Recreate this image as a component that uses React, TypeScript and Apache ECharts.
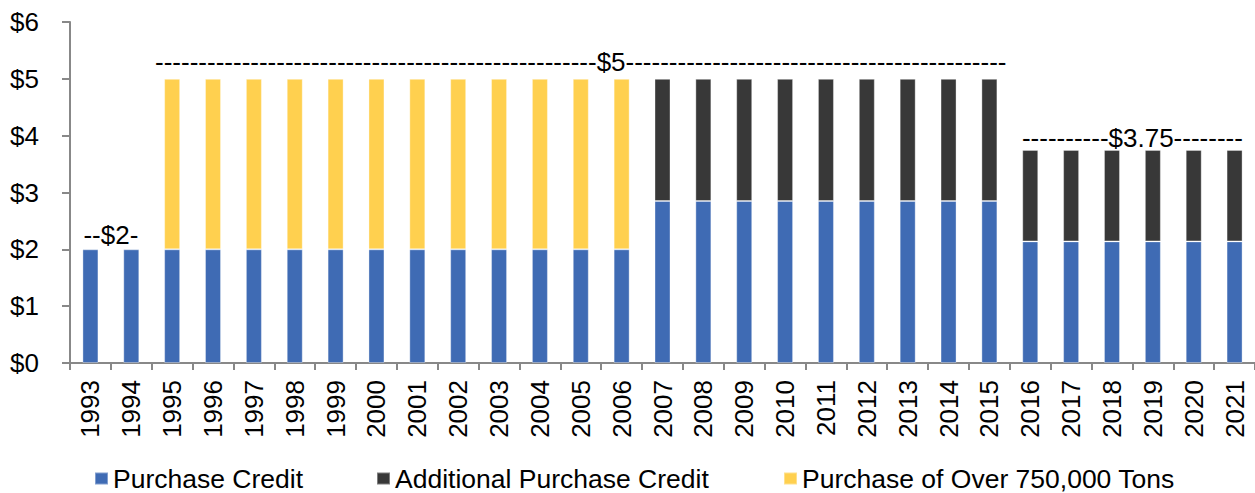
import React, { useEffect, useRef } from "react";
import * as echarts from "echarts";

const years = [
  "1993", "1994", "1995", "1996", "1997", "1998", "1999", "2000", "2001", "2002",
  "2003", "2004", "2005", "2006", "2007", "2008", "2009", "2010", "2011", "2012",
  "2013", "2014", "2015", "2016", "2017", "2018", "2019", "2020", "2021",
];

const purchaseCredit = [
  2, 2, 2, 2, 2, 2, 2, 2, 2, 2, 2, 2, 2, 2,
  2.85, 2.85, 2.85, 2.85, 2.85, 2.85, 2.85, 2.85, 2.85,
  2.14, 2.14, 2.14, 2.14, 2.14, 2.14,
];

const additionalCredit = [
  null, null, null, null, null, null, null, null, null, null, null, null, null, null,
  2.15, 2.15, 2.15, 2.15, 2.15, 2.15, 2.15, 2.15, 2.15,
  1.61, 1.61, 1.61, 1.61, 1.61, 1.61,
];

const over750k = [
  null, null, 3, 3, 3, 3, 3, 3, 3, 3, 3, 3, 3, 3,
  null, null, null, null, null, null, null, null, null,
  null, null, null, null, null, null,
];

const seriesNames = [
  "Purchase Credit",
  "Additional Purchase Credit",
  "Purchase of Over 750,000 Tons",
];

const yTicks = [0, 1, 2, 3, 4, 5, 6];

const annotationFrom = ["1993", "1995", "2016"];
const annotationTo = ["1994", "2015", "2021"];
const annotationLevel = [2, 5, 3.75];
const annotationText = [
  "--$2-",
  "---------------------------------------------------$5--------------------------------------------",
  "----------$3.75--------",
];

const FONT = "'Liberation Sans', Arial, Helvetica, sans-serif";
const COLORS = ["#3F6BB4", "#383838", "#FFD04F"];

export default function App() {
  const ref = useRef<HTMLDivElement>(null);

  useEffect(() => {
    if (!ref.current) return;
    const chart = echarts.init(ref.current, null, { renderer: "svg" });
    const dataSets = [purchaseCredit, additionalCredit, over750k];
    const legendLefts = [94, 376, 783];
    const annotationLift = [1, 4, -1];

    chart.setOption({
      animation: false,
      grid: { left: 70, top: 22, width: 1186, height: 341, containLabel: false },
      legend: seriesNames.map((name, i) => ({
        data: [name],
        left: legendLefts[i],
        top: 465,
        padding: 0,
        icon: "rect",
        itemWidth: 13,
        itemHeight: 12,
        textStyle: { fontFamily: FONT, fontSize: 26.5, color: "#000" },
        selectedMode: false,
      })),
      xAxis: {
        type: "category",
        data: years,
        boundaryGap: true,
        axisLine: { lineStyle: { color: "#888888", width: 2 } },
        axisTick: { show: true, length: 7, lineStyle: { color: "#888888", width: 2 } },
        axisLabel: {
          rotate: 90,
          interval: 0,
          margin: 17,
          fontFamily: FONT,
          fontSize: 26,
          color: "#000",
        },
      },
      yAxis: {
        type: "value",
        min: yTicks[0],
        max: yTicks[yTicks.length - 1],
        interval: 1,
        splitLine: { show: false },
        axisLine: { show: true, lineStyle: { color: "#888888", width: 2 } },
        axisTick: { show: true, length: 8, lineStyle: { color: "#888888", width: 2 } },
        axisLabel: {
          margin: 31,
          fontFamily: FONT,
          fontSize: 26,
          color: "#000",
          formatter: (v: number) => "$" + v,
        },
      },
      series: dataSets.map((d, i) => ({
        name: seriesNames[i],
        type: "bar",
        stack: "total",
        data: d,
        barWidth: 16,
        itemStyle: {
          color: COLORS[i],
          borderColor: "rgba(255,255,255,0.35)",
          borderWidth: 1,
        },
      })),
    });

    const graphics = annotationText.map((text, i) => {
      const a = chart.convertToPixel({ gridIndex: 0 }, [annotationFrom[i], annotationLevel[i]]) as number[];
      const b = chart.convertToPixel({ gridIndex: 0 }, [annotationTo[i], annotationLevel[i]]) as number[];
      return {
        type: "text",
        x: (a[0] + b[0]) / 2,
        y: a[1] - annotationLift[i],
        style: {
          text,
          fontFamily: FONT,
          fontSize: 26,
          fill: "#000",
          textAlign: "center",
          textVerticalAlign: "bottom",
        },
      };
    });
    chart.setOption({ graphic: graphics });

    return () => chart.dispose();
  }, []);

  return (
    <div
      ref={ref}
      style={{ position: "absolute", left: 0, top: 0, width: 1255, height: 493 }}
    />
  );
}
